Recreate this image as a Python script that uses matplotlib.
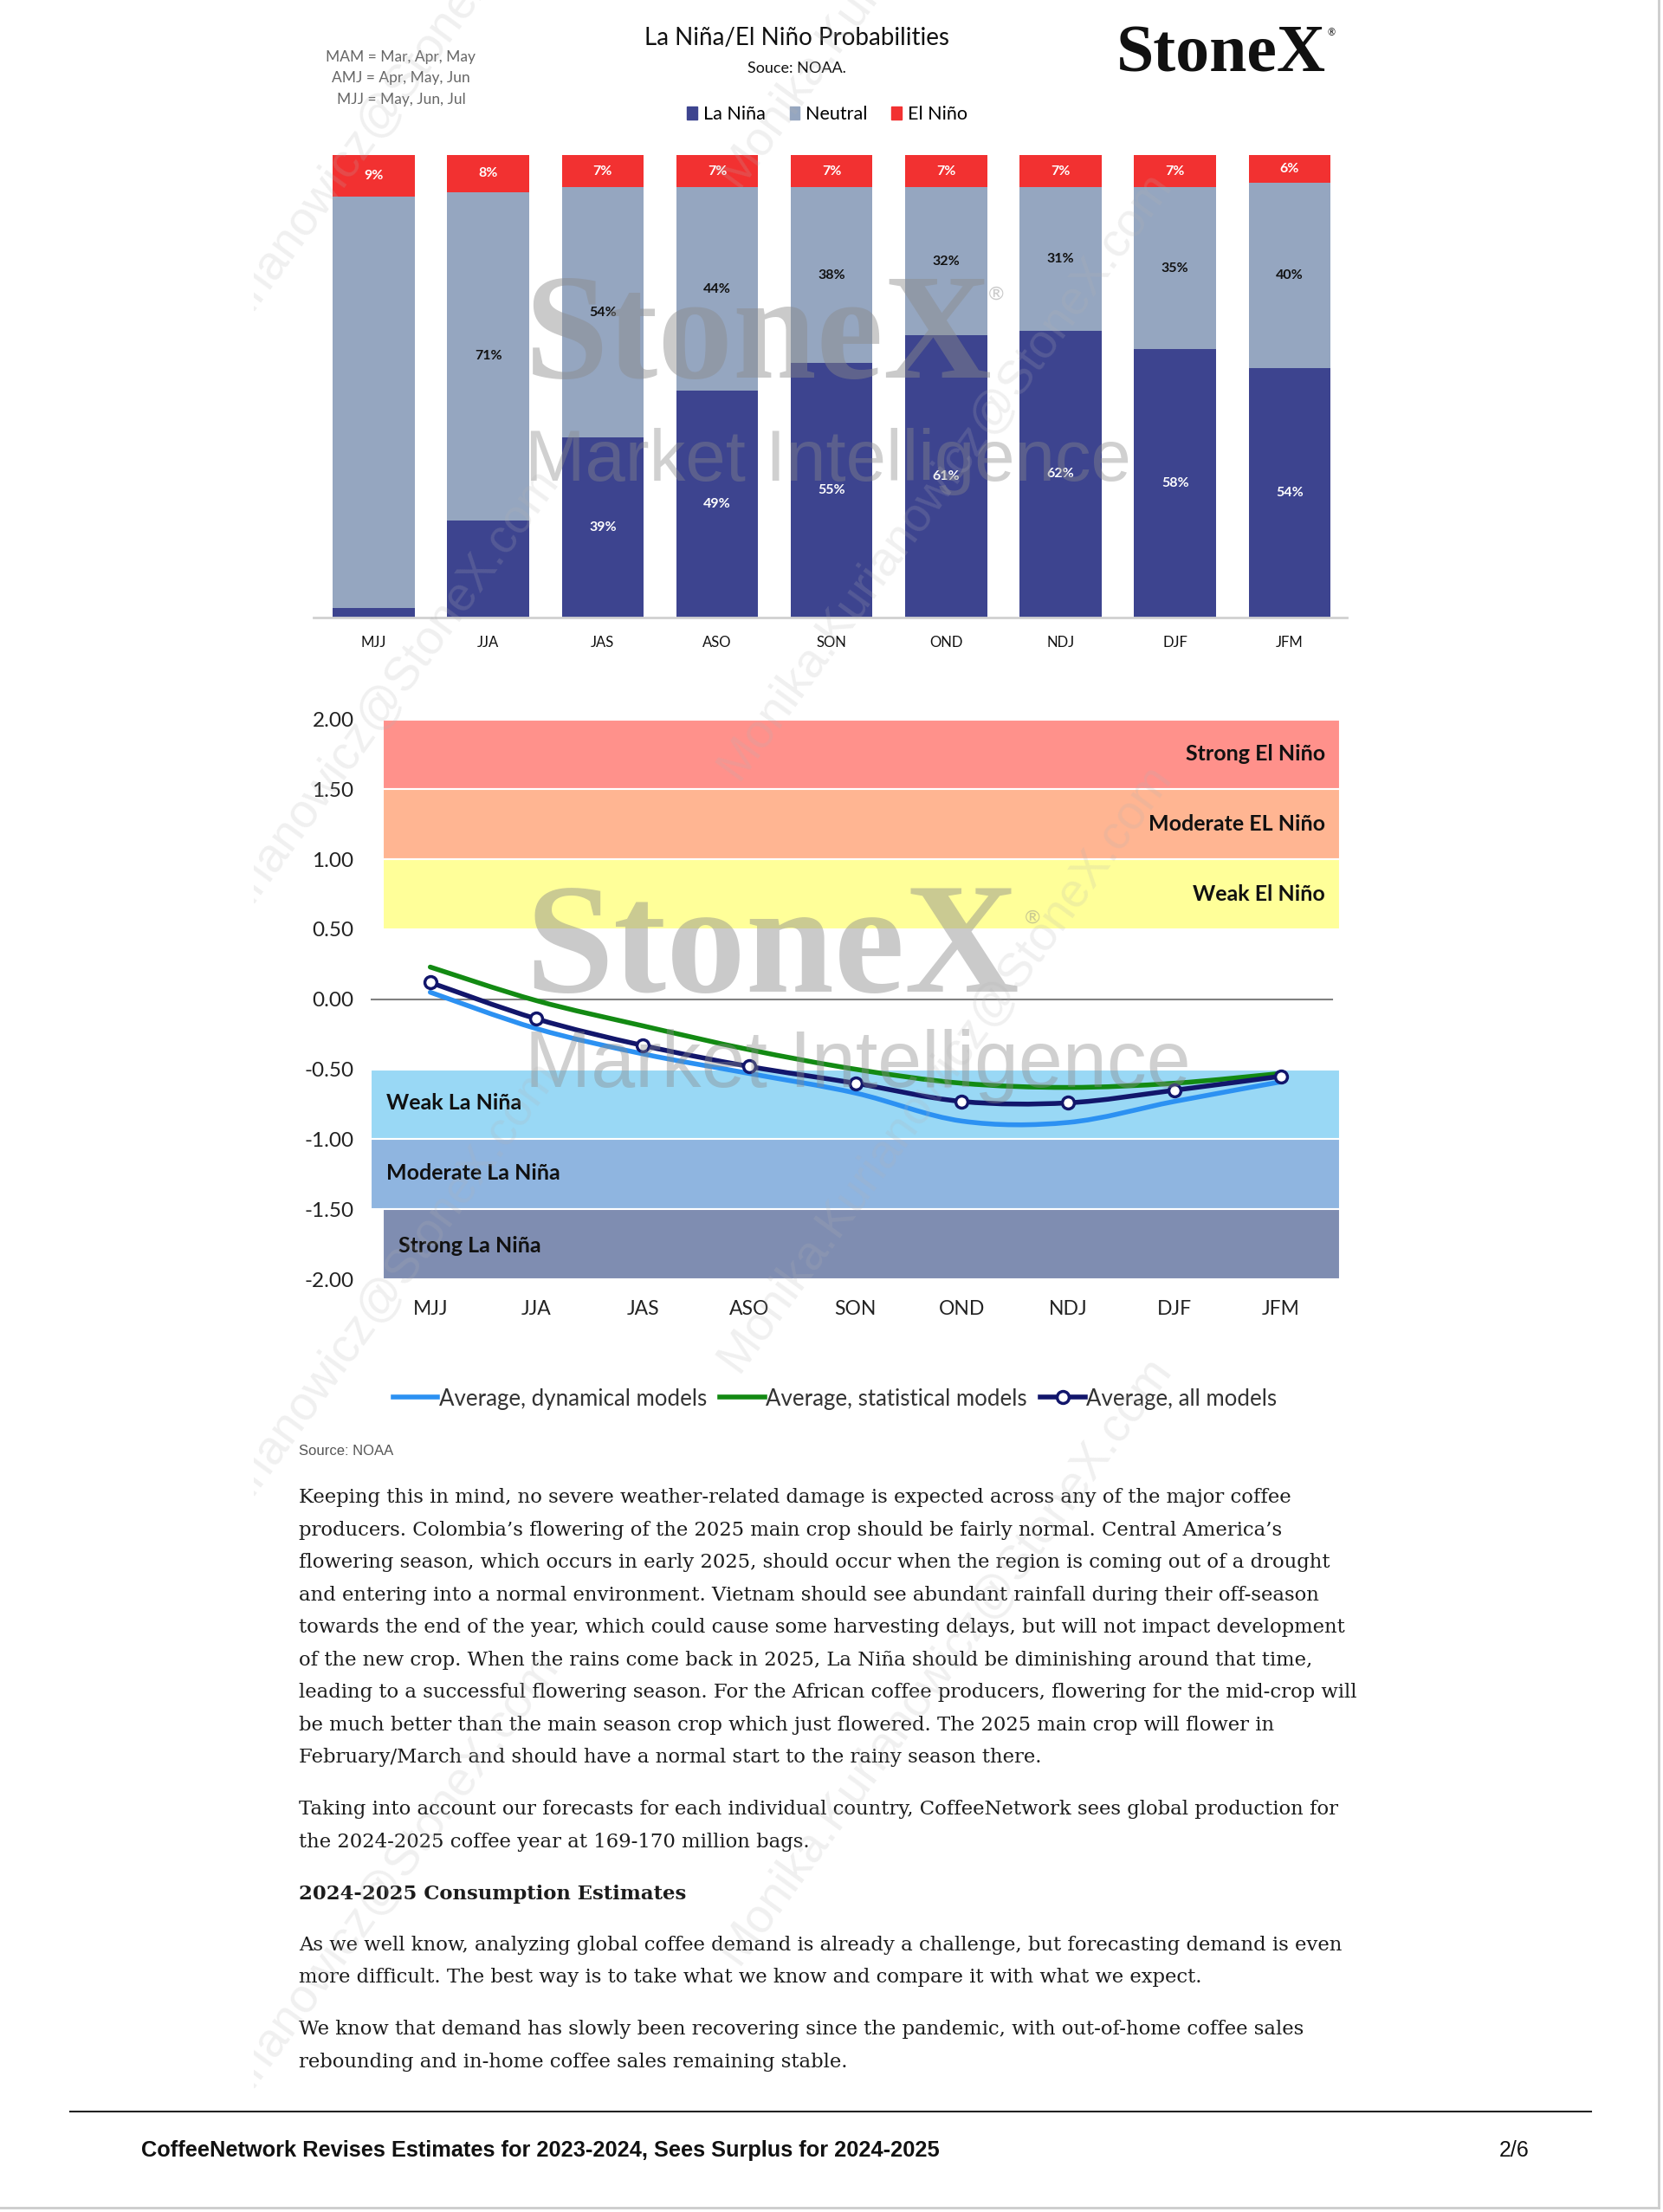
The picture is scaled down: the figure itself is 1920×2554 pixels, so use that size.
import numpy as np
import matplotlib.pyplot as plt
from matplotlib.path import Path
from matplotlib.patches import PathPatch, Rectangle, Patch
from matplotlib.lines import Line2D

plt.rcParams['font.family'] = ['Lato', 'DejaVu Sans']

W, H = 1920, 2554

# ---- bar chart data (percent) ----
seasons = ["MJJ", "JJA", "JAS", "ASO", "SON", "OND", "NDJ", "DJF", "JFM"]
la_nina = [2, 21, 39, 49, 55, 61, 62, 58, 54]
neutral = [89, 71, 54, 44, 38, 32, 31, 35, 40]
el_nino = [9, 8, 7, 7, 7, 7, 7, 7, 6]
la_nina_shown = [False, False, True, True, True, True, True, True, True]
neutral_shown = [False, True, True, True, True, True, True, True, True]

# ---- ONI forecast data ----
all_models = [0.12, -0.14, -0.33, -0.48, -0.60, -0.73, -0.74, -0.65, -0.55]
dynamical = [0.05, -0.21, -0.39, -0.53, -0.67, -0.87, -0.88, -0.73, -0.59]
statistical = [0.23, -0.01, -0.19, -0.36, -0.50, -0.60, -0.63, -0.60, -0.53]

band_names = ["Strong El Niño", "Moderate EL Niño", "Weak El Niño",
              "Weak La Niña", "Moderate La Niña", "Strong La Niña"]
band_lo = [1.5, 1.0, 0.5, -1.0, -1.5, -2.0]
band_hi = [2.0, 1.5, 1.0, -0.5, -1.0, -1.5]
band_colors = ["#FF918B", "#FFB592", "#FFFF99", "#99D8F5", "#8FB5E0", "#7F8DB1"]

notes = ["MAM = Mar, Apr, May", "AMJ = Apr, May, Jun", "MJJ = May, Jun, Jul"]

body = [
    ("Keeping this in mind, no severe weather-related damage is expected across any of the major coffee", 1729, False),
    ("producers. Colombia’s flowering of the 2025 main crop should be fairly normal. Central America’s", 1767, False),
    ("flowering season, which occurs in early 2025, should occur when the region is coming out of a drought", 1804, False),
    ("and entering into a normal environment. Vietnam should see abundant rainfall during their off-season", 1842, False),
    ("towards the end of the year, which could cause some harvesting delays, but will not impact development", 1879, False),
    ("of the new crop. When the rains come back in 2025, La Niña should be diminishing around that time,", 1917, False),
    ("leading to a successful flowering season. For the African coffee producers, flowering for the mid-crop will", 1954, False),
    ("be much better than the main season crop which just flowered. The 2025 main crop will flower in", 1992, False),
    ("February/March and should have a normal start to the rainy season there.", 2029, False),
    ("Taking into account our forecasts for each individual country, CoffeeNetwork sees global production for", 2089, False),
    ("the 2024-2025 coffee year at 169-170 million bags.", 2127, False),
    ("2024-2025 Consumption Estimates", 2187, True),
    ("As we well know, analyzing global coffee demand is already a challenge, but forecasting demand is even", 2246, False),
    ("more difficult. The best way is to take what we know and compare it with what we expect.", 2283, False),
    ("We know that demand has slowly been recovering since the pandemic, with out-of-home coffee sales", 2343, False),
    ("rebounding and in-home coffee sales remaining stable.", 2381, False),
]

fig = plt.figure(figsize=(W / 100, H / 100), dpi=100)
fig.patch.set_facecolor("white")


def fx(px):
    return px / W


def fy(py):
    return 1 - py / H


# ---- header texts ----
fig.text(fx(920), fy(44), "La Niña/El Niño Probabilities", fontsize=20,
         ha="center", va="center", color="#111111")
fig.text(fx(920), fy(79), "Souce: NOAA.", fontsize=13, ha="center",
         va="center", color="#111111")
for i, n in enumerate(notes):
    fig.text(fx(463), fy(66 + i * 24.5), n, fontsize=12.5, ha="center",
             va="center", color="#666666")
fig.text(fx(1410), fy(64), "StoneX", fontsize=56, fontweight="bold",
         ha="center", va="center", color="#111111",
         family=["Liberation Serif", "DejaVu Serif"])
fig.text(fx(1537), fy(38), "®", fontsize=8, ha="center", va="center",
         color="#111111")

# ---- stacked bars ----
ax1 = fig.add_axes([fx(361.5), fy(713), fx(1555) - fx(361.5), (713 - 179) / H])
x = np.arange(len(seasons))
bw = 0.715
la = np.array(la_nina)
ne = np.array(neutral)
el = np.array(el_nino)
ax1.bar(x, la, bw, color="#3D448F", label="La Niña", zorder=2)
ax1.bar(x, ne, bw, bottom=la, color="#95A6C0", label="Neutral", zorder=2)
ax1.bar(x, el, bw, bottom=la + ne, color="#F23131", label="El Niño", zorder=2)
for i in range(len(seasons)):
    if la_nina_shown[i]:
        ax1.text(x[i], la[i] / 2, f"{la[i]}%", ha="center", va="center",
                 color="white", fontsize=11.5, fontweight="bold", zorder=4)
    if neutral_shown[i]:
        ax1.text(x[i], la[i] + ne[i] / 2, f"{ne[i]}%", ha="center",
                 va="center", color="#111111", fontsize=11.5,
                 fontweight="bold", zorder=4)
    ax1.text(x[i], la[i] + ne[i] + el[i] / 2, f"{el[i]}%", ha="center",
             va="center", color="white", fontsize=11.5, fontweight="bold",
             zorder=4)
ax1.set_xlim(-0.53, 8.5)
ax1.set_ylim(0, 100)
ax1.set_xticks(x)
ax1.set_xticklabels(seasons, fontsize=12, color="#111111")
ax1.tick_params(axis="x", length=0, pad=15)
ax1.set_yticks([])
for s in ["top", "right", "left"]:
    ax1.spines[s].set_visible(False)
ax1.spines["bottom"].set_color("#D0D0D0")
ax1.spines["bottom"].set_linewidth(2)
ax1.patch.set_alpha(0)

fig.legend(handles=[Patch(color="#3D448F", label="La Niña"),
                    Patch(color="#95A6C0", label="Neutral"),
                    Patch(color="#F23131", label="El Niño")],
           loc="center", bbox_to_anchor=(fx(955), fy(132)), ncol=3,
           frameon=False, fontsize=15.5, handlelength=0.55,
           handleheight=0.75, handletextpad=0.3, columnspacing=1.3)

# bar chart watermark
fig.text(fx(606), fy(436), "StoneX", fontsize=125, fontweight="bold",
         color="#8A8A8A", alpha=0.45, ha="left", va="baseline",
         family=["Liberation Serif", "DejaVu Serif"], zorder=5)
fig.text(fx(1150), fy(340), "®", fontsize=16, color="#8A8A8A", alpha=0.45,
         ha="center", va="center", zorder=5)
fig.text(fx(606), fy(555), "Market Intelligence", fontsize=60,
         color="#8A8A8A", alpha=0.4, ha="left", va="baseline",
         family=["Liberation Sans Narrow", "Liberation Sans"], zorder=5)

# ---- ONI line chart ----
ax2 = fig.add_axes([fx(428), fy(1477), fx(1547.4) - fx(428), (1477 - 830.5) / H])
xl = np.arange(len(seasons))
ax2.set_xlim(-0.56, 8.56)
ax2.set_ylim(-2.0, 2.0)
band_x0 = [-0.45, -0.45, -0.45, -0.56, -0.56, -0.45]
for i in range(len(band_names)):
    ax2.add_patch(Rectangle((band_x0[i], band_lo[i]), 8.56 - band_x0[i],
                            band_hi[i] - band_lo[i], facecolor=band_colors[i],
                            edgecolor="white", linewidth=1.5, zorder=1))
for i in range(3):
    ax2.text(8.42, (band_lo[i] + band_hi[i]) / 2, band_names[i], ha="right",
             va="center", fontsize=18, fontweight="bold", color="#111111",
             zorder=3)
ax2.text(-0.41, -0.74, band_names[3], ha="left", va="center", fontsize=18,
         fontweight="bold", color="#111111", zorder=3)
ax2.text(-0.41, -1.245, band_names[4], ha="left", va="center", fontsize=18,
         fontweight="bold", color="#111111", zorder=3)
ax2.text(-0.30, -1.76, band_names[5], ha="left", va="center", fontsize=18,
         fontweight="bold", color="#111111", zorder=3)
ax2.axhline(0, xmin=0, xmax=0.992, color="#808080", linewidth=1.5, zorder=2)


def smooth_path(xs, ys):
    pts = np.column_stack([xs, ys]).astype(float)
    ext = np.vstack([pts[0], pts, pts[-1]])
    verts = [pts[0]]
    codes = [Path.MOVETO]
    for i in range(len(pts) - 1):
        p0, p1, p2, p3 = ext[i], ext[i + 1], ext[i + 2], ext[i + 3]
        verts += [p1 + (p2 - p0) / 6, p2 - (p3 - p1) / 6, p2]
        codes += [Path.CURVE4] * 3
    return Path(verts, codes)


line_styles = [(dynamical, "#2C91F2"), (statistical, "#138A13"),
               (all_models, "#12166B")]
for vals, col in line_styles:
    ax2.add_patch(PathPatch(smooth_path(xl, vals), facecolor="none",
                            edgecolor=col, linewidth=4, zorder=4,
                            capstyle="round"))
ax2.plot(xl, all_models, linestyle="none", marker="o", markersize=10,
         markerfacecolor="white", markeredgecolor="#12166B",
         markeredgewidth=2.5, zorder=5)

ax2.set_xticks(xl)
ax2.set_xticklabels(seasons, fontsize=16.5, color="#222222")
ax2.set_yticks(np.arange(-2.0, 2.01, 0.5))
ax2.set_yticklabels([f"{v:.2f}" for v in np.arange(-2.0, 2.01, 0.5)],
                    fontsize=17.5, color="#222222")
ax2.tick_params(axis="x", length=0, pad=17)
ax2.tick_params(axis="y", length=0, pad=14)
for s in ax2.spines.values():
    s.set_visible(False)
ax2.patch.set_alpha(0)

# line chart watermark
fig.text(fx(606), fy(1145), "StoneX", fontsize=132, fontweight="bold",
         color="#8A8A8A", alpha=0.45, ha="left", va="baseline",
         family=["Liberation Serif", "DejaVu Serif"], zorder=6)
fig.text(fx(1192), fy(1060), "®", fontsize=16, color="#8A8A8A", alpha=0.45,
         ha="center", va="center", zorder=6)
fig.text(fx(606), fy(1255), "Market Intelligence", fontsize=66,
         color="#8A8A8A", alpha=0.4, ha="left", va="baseline",
         family=["Liberation Sans Narrow", "Liberation Sans"], zorder=6)

handles = [Line2D([], [], color="#2C91F2", linewidth=4),
           Line2D([], [], color="#138A13", linewidth=4),
           Line2D([], [], color="#12166B", linewidth=4, marker="o",
                  markersize=10, markerfacecolor="white",
                  markeredgewidth=2.5)]
fig.legend(handles, ["Average, dynamical models", "Average, statistical models",
                     "Average, all models"],
           loc="center", bbox_to_anchor=(fx(964), fy(1615)), ncol=3,
           frameon=False, fontsize=18.6, handlelength=2.0, handletextpad=0.05,
           columnspacing=0.6, labelcolor="#333333")

fig.text(fx(345), fy(1676), "Source: NOAA", fontsize=12, color="#555555",
         ha="left", va="center",
         family=["Liberation Sans Narrow", "Liberation Sans"])

# ---- body text ----
for txt, yy, bold in body:
    fig.text(fx(345), fy(yy), txt, fontsize=16.4, color="#1C1C1C",
             ha="left", va="center", fontweight="bold" if bold else "normal",
             family=["DejaVu Serif"])

# ---- footer ----
fig.add_artist(Line2D([fx(81), fx(1837)], [fy(2438), fy(2438)],
                      color="#222222", linewidth=1.5))
fig.text(fx(163), fy(2483),
         "CoffeeNetwork Revises Estimates for 2023-2024, Sees Surplus for 2024-2025",
         fontsize=18.3, fontweight="bold", color="#111111", ha="left",
         va="center", family=["Liberation Sans", "DejaVu Sans"])
fig.text(fx(1765), fy(2483), "2/6", fontsize=18, color="#111111", ha="right",
         va="center", family=["Liberation Sans", "DejaVu Sans"])

# diagonal email watermark, clipped to the text column like the page
wm = fig.add_axes([fx(293), fy(2430), fx(1360) - fx(293), 2430 / H])
wm.set_axis_off()
wm.set_zorder(20)
wm_cols = [383, 1091]
wm_rows = [[207, 891, 1575, 2259], [-135, 549, 1233, 1917]]
for cx, rows in zip(wm_cols, wm_rows):
    for cy in rows:
        t = fig.text(fx(cx), fy(cy), "Monika.Kurianowicz@StoneX.com",
                     fontsize=40, color="#B4B4B4", alpha=0.2, rotation=54,
                     ha="center", va="center", rotation_mode="anchor",
                     family=["Liberation Sans", "DejaVu Sans"], zorder=20)
        t.set_clip_box(wm.bbox)
        t.set_clip_on(True)

# page edge
fig.add_artist(Line2D([fx(1915), fx(1915)], [fy(0), fy(2549)],
                      color="#CCCCCC", linewidth=2))
fig.add_artist(Line2D([fx(0), fx(1915)], [fy(2549), fy(2549)],
                      color="#CCCCCC", linewidth=2))

fig.savefig("out.png", dpi=100, facecolor="white")
